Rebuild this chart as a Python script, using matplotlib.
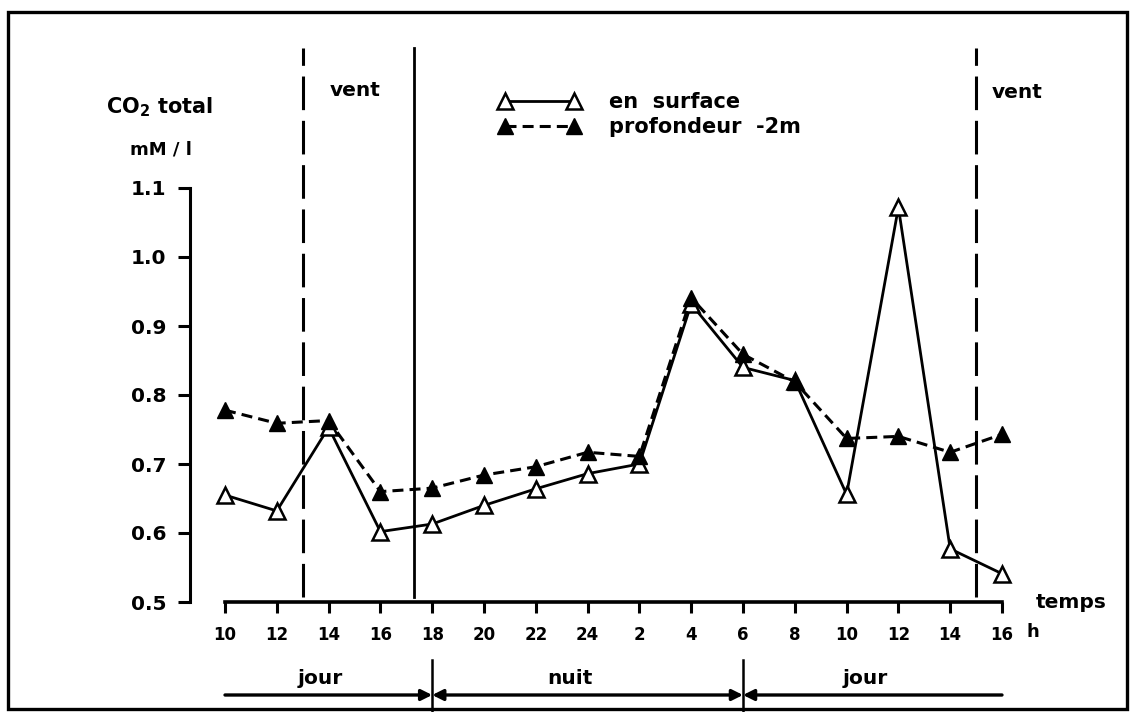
import matplotlib.pyplot as plt
from matplotlib.patches import Rectangle

# données
heures = ['10', '12', '14', '16', '18', '20', '22', '24', '2', '4', '6', '8', '10', '12', '14', '16']
surface = [0.655, 0.632, 0.753, 0.602, 0.613, 0.640, 0.664, 0.686, 0.700, 0.932,
           0.840, 0.821, 0.656, 1.072, 0.577, 0.541]
profondeur = [0.778, 0.759, 0.763, 0.660, 0.665, 0.684, 0.696, 0.717, 0.711, 0.941,
              0.859, 0.819, 0.737, 0.740, 0.717, 0.743]
yticks = [0.5, 0.6, 0.7, 0.8, 0.9, 1.0, 1.1]
vent_tirets = [1.5, 14.5]   # limites des périodes de vent (tirets)
vent_trait = 3.65           # limite en trait plein
separations = [4, 10]       # 18 h et 6 h

plt.rcParams['font.family'] = 'DejaVu Sans'
plt.rcParams['font.weight'] = 'bold'

W, H = 1131, 712
fig = plt.figure(figsize=(W / 100, H / 100), dpi=100)
fig.patch.set_facecolor('white')

def fx(px):
    return px / W

def fy(py):
    return 1 - py / H

# axes placés en pixels : index 0 -> 225 px, pas 51.8 px ; 0.5 -> 602 px, 0.1 = 69 px
x0, pas = 225, 51.8
y0, k = 602, 690
ax = fig.add_axes([fx(190), fy(602), fx(1002) - fx(190), fy(48) - fy(602)])
ax.set_xlim(-(x0 - 190) / pas, 15)
ax.set_ylim(0.5, 0.5 + (y0 - 48) / k)

def vy(py):
    return 0.5 + (y0 - py) / k

def ix(px):
    return (px - x0) / pas

xs = list(range(len(heures)))
ax.plot(xs, surface, color='black', lw=2.0, marker='^', ms=11.5, mfc='white',
        mec='black', mew=1.8, clip_on=False, zorder=4, label='en  surface')
ax.plot(xs, profondeur, color='black', lw=2.2, ls=(0, (3.6, 2.0)), marker='^', ms=11.5,
        mfc='black', mec='black', clip_on=False, zorder=5, label='profondeur  -2m')

# lignes verticales "vent"
for xv in vent_tirets:
    ax.plot([xv, xv], [vy(597), vy(48)], color='black', lw=2.2, ls=(0, (11, 3.5)),
            clip_on=False)
ax.plot([vent_trait, vent_trait], [vy(597), vy(48)], color='black', lw=2.0, clip_on=False)

ax.text(ix(355), vy(90), 'vent', ha='center', va='center', fontsize=14.5)
ax.text(ix(1017), vy(93), 'vent', ha='center', va='center', fontsize=14.5)

# axes
for s in ['top', 'right']:
    ax.spines[s].set_visible(False)
ax.spines['left'].set_bounds(0.5, 1.1)
ax.spines['bottom'].set_bounds(0, 15)
ax.spines['left'].set_linewidth(2.2)
ax.spines['bottom'].set_linewidth(2.6)
ax.set_yticks(yticks)
ax.set_yticklabels(['%.1f' % v for v in yticks])
ax.set_xticks(xs)
ax.set_xticklabels(heures)
ax.tick_params(axis='y', direction='out', length=9, width=2.2, pad=8, labelsize=14.5)
ax.tick_params(axis='x', direction='out', length=8, width=2.2, pad=9, labelsize=12)
ax.patch.set_alpha(0)

ax.text(ix(1027), vy(632), 'h', ha='left', va='center', fontsize=13)
ax.text(ix(1071), vy(603), 'temps', ha='center', va='center', fontsize=14.5)

fig.text(fx(160), fy(107), 'CO$_2$ total', ha='center', va='center', fontsize=15)
fig.text(fx(161), fy(150), 'mM / l', ha='center', va='center', fontsize=13)

# légende
leg = ax.legend(loc='upper left', bbox_to_anchor=(fx(499), fy(92)),
                bbox_transform=fig.transFigure, frameon=False, numpoints=2,
                handlelength=3.9, handletextpad=1.4, labelspacing=0.25,
                borderpad=0, borderaxespad=0, fontsize=15)

# bande jour / nuit
yb = vy(695)
ax.annotate('', xy=(4, yb), xytext=(0, yb), annotation_clip=False,
            arrowprops=dict(arrowstyle='-|>', lw=2.4, color='black', mutation_scale=16,
                            shrinkA=0, shrinkB=0))
ax.annotate('', xy=(4, yb), xytext=(10, yb), annotation_clip=False,
            arrowprops=dict(arrowstyle='<|-|>', lw=2.4, color='black', mutation_scale=16,
                            shrinkA=0, shrinkB=0))
ax.annotate('', xy=(10, yb), xytext=(15, yb), annotation_clip=False,
            arrowprops=dict(arrowstyle='-|>', lw=2.4, color='black', mutation_scale=16,
                            shrinkA=0, shrinkB=0))
for xs_ in separations:
    ax.plot([xs_, xs_], [vy(660), vy(712)], color='black', lw=1.8, clip_on=False)

ax.text(ix(320), vy(678), 'jour', ha='center', va='center', fontsize=14.5)
ax.text(ix(570), vy(678), 'nuit', ha='center', va='center', fontsize=14.5)
ax.text(ix(865), vy(678), 'jour', ha='center', va='center', fontsize=14.5)

# cadre
fig.add_artist(Rectangle((fx(8), fy(709)), fx(1127) - fx(8), fy(12) - fy(709),
                         fill=False, lw=2.4, edgecolor='black', transform=fig.transFigure))

fig.savefig('out.png', dpi=100)
